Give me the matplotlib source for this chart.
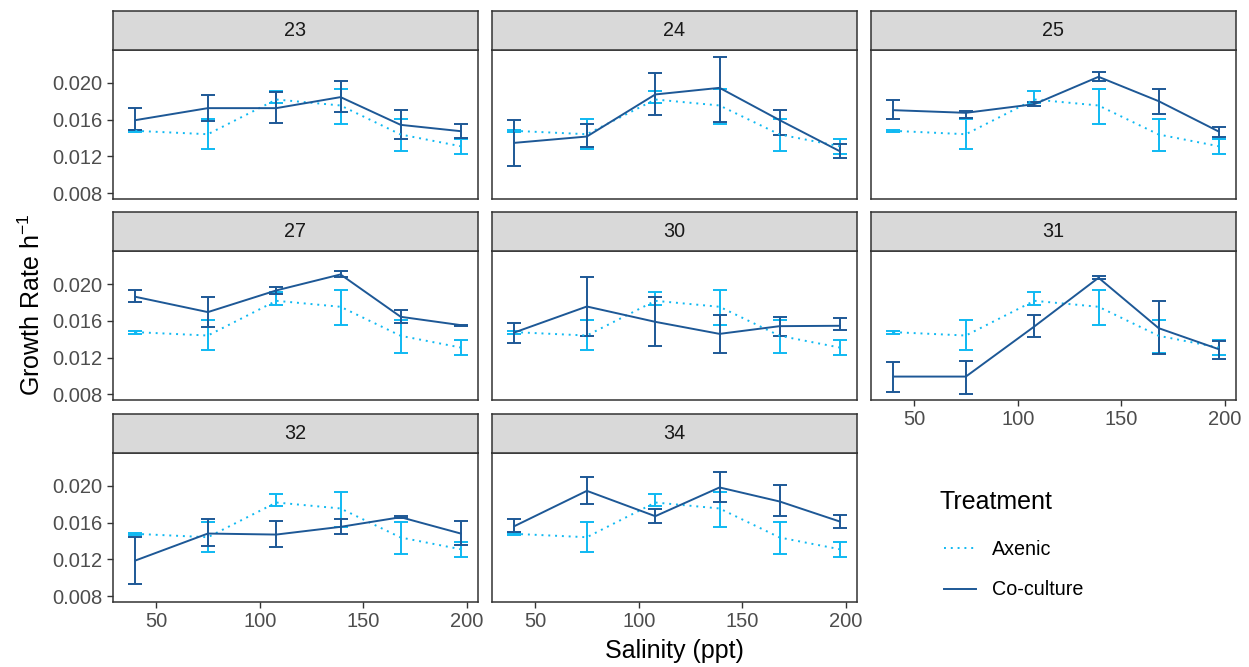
import matplotlib
matplotlib.use("Agg")
from matplotlib import pyplot as plt
from matplotlib.lines import Line2D
import numpy as np

plt.rcParams["font.family"] = ["Liberation Sans", "DejaVu Sans"]

salinity = [40, 75, 108, 139, 168, 197]
panels = ["23", "24", "25", "27", "30", "31", "32", "34"]

# Axenic is the same in every panel
axenic = [0.01477, 0.0144, 0.01818, 0.01753, 0.01437, 0.01309]
axenic_lo = [0.01462, 0.01277, 0.01775, 0.01556, 0.01255, 0.01226]
axenic_hi = [0.01490, 0.01607, 0.01913, 0.01935, 0.01607, 0.01389]

coculture = {
    "23": [0.01593, 0.01724, 0.01724, 0.01844, 0.01542, 0.01473],
    "24": [0.01346, 0.01415, 0.01873, 0.01945, 0.01593, 0.01255],
    "25": [0.01702, 0.01673, 0.01767, 0.02065, 0.01800, 0.01469],
    "27": [0.01862, 0.01695, 0.01931, 0.02105, 0.01644, 0.01553],
    "30": [0.01473, 0.01756, 0.01589, 0.01458, 0.01542, 0.01546],
    "31": [0.00993, 0.00993, 0.01538, 0.02069, 0.01520, 0.01291],
    "32": [0.01186, 0.01480, 0.01469, 0.01553, 0.01658, 0.01480],
    "34": [0.01560, 0.01945, 0.01669, 0.01982, 0.01829, 0.01611],
}
coculture_lo = {
    "23": [0.01484, 0.01586, 0.01564, 0.01680, 0.01386, 0.01397],
    "24": [0.01095, 0.01302, 0.01647, 0.01575, 0.01433, 0.01178],
    "25": [0.01604, 0.01618, 0.01742, 0.02022, 0.01662, 0.01415],
    "27": [0.01804, 0.01531, 0.01887, 0.02073, 0.01571, 0.01546],
    "30": [0.01357, 0.01440, 0.01328, 0.01251, 0.01440, 0.01502],
    "31": [0.00826, 0.00800, 0.01422, 0.02055, 0.01237, 0.01186],
    "32": [0.00928, 0.01349, 0.01331, 0.01473, 0.01644, 0.01353],
    "34": [0.01495, 0.01807, 0.01597, 0.01822, 0.01669, 0.01542],
}
coculture_hi = {
    "23": [0.01724, 0.01869, 0.01895, 0.02015, 0.01706, 0.01549],
    "24": [0.01593, 0.01549, 0.02102, 0.02284, 0.01702, 0.01331],
    "25": [0.01811, 0.01698, 0.01793, 0.02120, 0.01931, 0.01516],
    "27": [0.01938, 0.01855, 0.01971, 0.02138, 0.01720, 0.01560],
    "30": [0.01575, 0.02073, 0.01855, 0.01666, 0.01644, 0.01626],
    "31": [0.01157, 0.01168, 0.01666, 0.02084, 0.01811, 0.01382],
    "32": [0.01444, 0.01636, 0.01615, 0.01636, 0.01669, 0.01615],
    "34": [0.01633, 0.02098, 0.01746, 0.02153, 0.02007, 0.01680],
}

AX_COL = "#0FB9F2"
CO_COL = "#1D5896"
EDGE = "#333333"
TXT = "#4D4D4D"

W, H = 1249, 667
fig = plt.figure(figsize=(W / 100, H / 100), dpi=100)

col_left = [112.7, 491.7, 870.7]
col_w = 365.3
row_bottom = [198.7, 400.0, 601.7]
panel_h = 148.7
strip_h = 39.5

for i, name in enumerate(panels):
    r, c = divmod(i, 3)
    left = col_left[c] / W
    bottom = 1 - row_bottom[r] / H
    ax = fig.add_axes([left, bottom, col_w / W, panel_h / H])

    lo = np.array(axenic) - np.array(axenic_lo)
    hi = np.array(axenic_hi) - np.array(axenic)
    ax.errorbar(salinity, axenic, yerr=[lo, hi], color=AX_COL, ls=(0, (1, 2.5)),
                lw=1.4, capsize=5, elinewidth=1.4, capthick=1.4)
    cv = np.array(coculture[name])
    lo = cv - np.array(coculture_lo[name])
    hi = np.array(coculture_hi[name]) - cv
    ax.errorbar(salinity, cv, yerr=[lo, hi], color=CO_COL, ls="-",
                lw=1.4, capsize=5, elinewidth=1.4, capthick=1.4)

    ax.set_xlim(29.1, 205.3)
    ax.set_ylim(0.00738, 0.02357)
    ax.set_xticks([50, 100, 150, 200])
    ax.set_yticks([0.008, 0.012, 0.016, 0.020])
    ax.set_yticklabels(["0.008", "0.012", "0.016", "0.020"])
    ax.tick_params(colors=EDGE, labelcolor=TXT, labelsize=14.5, length=4, width=1)
    for s in ax.spines.values():
        s.set_color(EDGE)
        s.set_linewidth(1.1)
    bottom_of_col = (r == 2) or (r == 1 and c == 2)
    if not bottom_of_col:
        ax.tick_params(axis="x", bottom=False, labelbottom=False)
    if c != 0:
        ax.tick_params(axis="y", left=False, labelleft=False)

    sax = fig.add_axes([left, bottom + panel_h / H, col_w / W, strip_h / H])
    sax.set_facecolor("#D9D9D9")
    sax.set_xticks([])
    sax.set_yticks([])
    for s in sax.spines.values():
        s.set_color(EDGE)
        s.set_linewidth(1.1)
    sax.text(0.5, 0.5, name, ha="center", va="center", fontsize=14.2,
             color="#1A1A1A", transform=sax.transAxes)

fig.text(674 / W, 1 - 651 / H, "Salinity (ppt)", ha="center", va="center", fontsize=18)
fig.text(32 / W, 1 - 305 / H, r"Growth Rate h$^{\mathregular{-1}}$", ha="center",
         va="center", rotation=90, fontsize=18)

handles = [Line2D([], [], color=AX_COL, ls=(0, (1, 2.5)), lw=1.4),
           Line2D([], [], color=CO_COL, ls="-", lw=1.4)]
fig.text(940 / W, 1 - 502 / H, "Treatment", ha="left", va="center", fontsize=18)
fig.legend(handles, ["Axenic", "Co-culture"],
           loc="upper left", bbox_to_anchor=(926 / W, 1 - 522 / H),
           frameon=False, fontsize=14.2,
           handlelength=1.65, labelspacing=1.1, handletextpad=0.8)

fig.savefig("out.png", dpi=100)
